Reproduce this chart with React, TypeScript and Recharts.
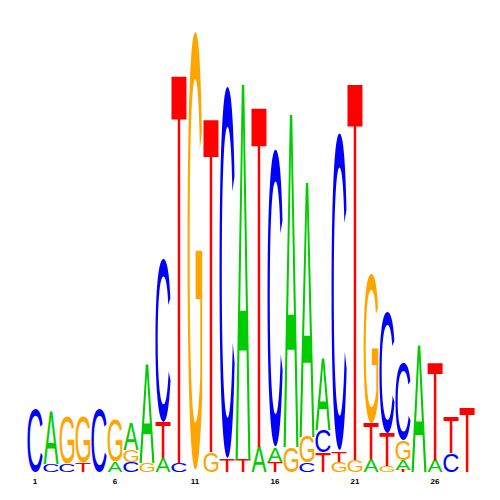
import React from 'react';
import { BarChart, Bar, XAxis, YAxis } from 'recharts';

// sequence positions (tick labels shown every 5th)
const positions = [1, 2, 3, 4, 5, 6, 7, 8, 9, 10, 11, 12, 13, 14, 15, 16, 17, 18, 19, 20, 21, 22, 23, 24, 25, 26, 27, 28];

// letter heights in bits, one entry per position
const aBits = [0, 0.234, 0, 0, 0, 0.045, 0.122, 0.441, 0.063, 0, 0, 0, 0, 1.689, 0.113, 0.063, 1.495, 1.144, 0.324, 0, 0, 0.059, 0, 0.045, 0.568, 0.054, 0, 0];
const cBits = [0.288, 0.036, 0.036, 0, 0.284, 0, 0.045, 0, 0.743, 0.041, 0, 0, 1.689, 0, 0, 1.351, 0, 0.041, 0.104, 1.441, 0, 0, 0.55, 0.351, 0, 0, 0.086, 0];
const gBits = [0, 0, 0.216, 0.212, 0, 0.189, 0.054, 0.041, 0, 0, 1.991, 0.09, 0, 0, 0, 0, 0.113, 0.117, 0, 0.045, 0.054, 0.676, 0.027, 0.09, 0, 0, 0, 0];
const tBits = [0, 0, 0, 0.041, 0, 0, 0, 0, 0.158, 1.739, 0, 1.495, 0.054, 0.054, 1.523, 0.045, 0, 0, 0.086, 0.046, 1.689, 0.158, 0.149, 0.009, 0, 0.437, 0.162, 0.288];

const colors = { A: '#00cc00', C: '#0000ff', G: '#ffa500', T: '#ff0000' };

// rough glyph metrics for Liberation Sans (em units)
const glyph = {
  A: { adv: 0.667, lsb: 0.0, vis: 0.667, top: 0.688, bot: 0 },
  C: { adv: 0.722, lsb: 0.049, vis: 0.63, top: 0.702, bot: -0.014 },
  G: { adv: 0.778, lsb: 0.048, vis: 0.67, top: 0.702, bot: -0.014 },
  T: { adv: 0.611, lsb: 0.023, vis: 0.567, top: 0.688, bot: 0 },
};

const LAYERS = 4;

const data = positions.map((pos, i) => {
  const stack = [
    { letter: 'A', h: aBits[i] },
    { letter: 'C', h: cBits[i] },
    { letter: 'G', h: gBits[i] },
    { letter: 'T', h: tBits[i] },
  ]
    .filter((s) => s.h > 0)
    .sort((a, b) => a.h - b.h);
  const row: any = { pos: String(pos), letters: stack.map((s) => s.letter) };
  for (let k = 0; k < LAYERS; k++) row['l' + k] = stack[k] ? stack[k].h : 0;
  return row;
});

const FS = 100;

const Letter = (props: any) => {
  const { x, y, width, height, payload, layer } = props;
  const letter = payload && payload.letters[layer];
  if (!letter || !height || height <= 0) return <g />;
  const g = glyph[letter];
  const w = width - 1;
  const left = x + 0.5;
  // stretch so the visible glyph fills the box
  const len = (w / g.vis) * g.adv;
  const sy = height / ((g.top - g.bot) * FS);
  const bottom = y + height;
  const baseline = bottom + g.bot * FS * sy;
  const tx = left - (g.lsb / g.adv) * len;
  return (
    <g transform={`translate(${tx}, ${baseline}) scale(1, ${sy})`}>
      <text
        x={0}
        y={0}
        fontSize={FS}
        fontFamily="'Liberation Sans', Arial, sans-serif"
        fontWeight="normal"
        fill={colors[letter]}
        textLength={len}
        lengthAdjust="spacingAndGlyphs"
      >
        {letter}
      </text>
    </g>
  );
};

const PosTick = (props: any) => {
  const { x, y, payload } = props;
  const v = Number(payload.value);
  if ((v - 1) % 5 !== 0) return <g />;
  return (
    <text
      x={x}
      y={y + 12}
      textAnchor="middle"
      fontSize={8}
      fontWeight="bold"
      fontFamily="'Liberation Sans', Arial, sans-serif"
      fill="#000"
    >
      {payload.value}
    </text>
  );
};

export default function App() {
  return (
    <div style={{ position: 'absolute', left: 0, top: 0, width: 500, height: 500, background: '#fff' }}>
      <BarChart
        width={500}
        height={500}
        data={data}
        margin={{ top: 28, right: 25, left: 27, bottom: 8 }}
        barCategoryGap={0}
        barGap={0}
      >
        <XAxis
          dataKey="pos"
          interval={0}
          axisLine={false}
          tickLine={false}
          tickSize={0}
          tickMargin={0}
          height={20}
          tick={<PosTick />}
        />
        <YAxis hide domain={[0, 2]} allowDataOverflow />
        {[0, 1, 2, 3].map((k) => (
          <Bar
            key={k}
            dataKey={'l' + k}
            stackId="logo"
            isAnimationActive={false}
            shape={(p: any) => <Letter {...p} layer={k} />}
          />
        ))}
      </BarChart>
    </div>
  );
}
